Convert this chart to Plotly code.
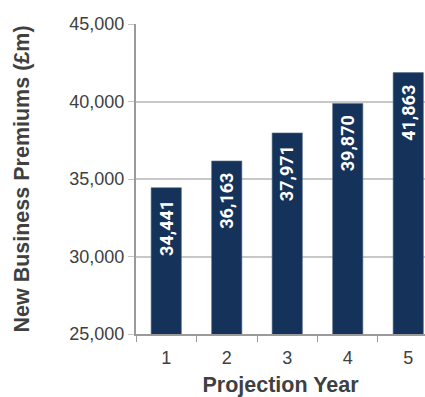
import plotly.graph_objects as go

years = ["1", "2", "3", "4", "5"]
premiums = [34441, 36163, 37971, 39870, 41863]
y_ticks = [25000, 30000, 35000, 40000, 45000]

bar_color = "#14325a"
text_color = "#404040"
font_family = "Liberation Sans, Arial, sans-serif"

fig = go.Figure()
fig.add_trace(go.Bar(
    x=years, y=premiums,
    marker=dict(color=bar_color, line=dict(color="#5a6f8c", width=0.6)),
    width=0.5,
))

for i, v in enumerate(premiums):
    fig.add_annotation(
        x=i, y=v, text=f"<b>{v:,}</b>", showarrow=False, textangle=-90,
        xanchor="center", yanchor="top", yshift=-10,
        font=dict(family="Roboto, Liberation Sans, sans-serif", size=18, color="white"),
    )

fig.update_layout(
    width=425, height=397,
    margin=dict(l=136, r=0, t=24, b=60),
    plot_bgcolor="white", paper_bgcolor="white",
    showlegend=False,
    font=dict(family=font_family, color=text_color),
)
fig.update_xaxes(
    type="category", range=[-0.5, 4.277],
    tickson="boundaries", ticks="outside", ticklen=6, tickcolor="#9a9a9a",
    ticklabelstandoff=6,
    showline=True, linecolor="#9a9a9a", linewidth=2,
    tickfont=dict(size=18, color=text_color),
    title=dict(text="<b>Projection Year</b>", font=dict(size=21.5, color=text_color), standoff=14),
    showgrid=False,
)
fig.update_yaxes(
    range=[25000, 45000], tickvals=y_ticks, tickformat=",",
    ticks="outside", ticklen=6, tickcolor="#c4c4c4",
    showline=True, linecolor="#9a9a9a", linewidth=2,
    showgrid=True, gridcolor="#c8c8c8", gridwidth=1.5,
    tickfont=dict(size=18, color=text_color),
    title=dict(text="<b>New Business Premiums (£m)</b>", font=dict(size=21.5, color=text_color), standoff=34),
)

fig.write_html("out.html")
